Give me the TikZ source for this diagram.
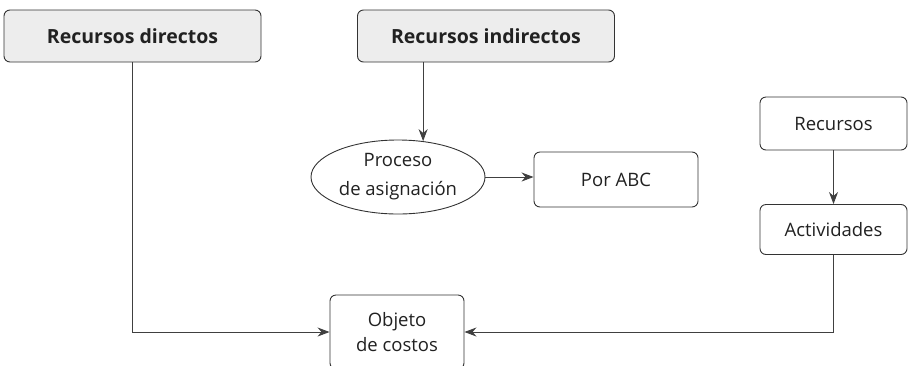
\documentclass[tikz,border=0pt]{standalone}
\usepackage{fontspec}
\setmainfont{Open Sans}
\usepackage{tikz}
\usetikzlibrary{arrows,arrows.meta,shapes,positioning}

\begin{document}
\begin{tikzpicture}[x=1pt,y=-1pt,
    every node/.style={font=\fontsize{18.5}{25}\selectfont, text=black!87},
    box/.style={draw=black!80, line width=0.9pt, rounded corners=6pt, align=center},
    topbox/.style={box, fill=black!7, minimum width=257pt, minimum height=52pt, font=\fontsize{19.5}{25}\selectfont\bfseries},
    conn/.style={draw=black!75, line width=0.9pt, -{Stealth[length=12pt,width=9pt]}}]
    \useasboundingbox (0,0) rectangle (912,365);

    \node[topbox] (rd) at (132.5,36) {Recursos directos};
    \node[topbox] (ri) at (486,36) {Recursos indirectos};
    \node[draw=black!80, line width=0.9pt, ellipse, inner sep=0pt, minimum width=174pt, minimum height=74pt, align=center] (pa) at (398,177) {Proceso\\[4pt]de asignación};
    \node[box, minimum width=164pt, minimum height=55pt] (abc) at (616,179.5) {Por ABC};
    \node[box, minimum width=147pt, minimum height=53pt] (rec) at (833.5,123.5) {Recursos};
    \node[box, minimum width=147pt, minimum height=50pt, node distance=106pt, below of=rec] (act) {Actividades};
    \node[box, minimum width=134pt, minimum height=74pt] (obj) at (397,332) {Objeto\\de costos};

    \draw[conn] (pa.55 |- ri.south) -- (pa.55);
    \draw[conn] (pa.east) -- (pa.east -| abc.west);
    \draw[conn] (rec) -- (act);
    \draw[conn] (rd.south) |- (obj.west);
    \draw[conn] (act.south) |- (obj.east);
  \end{tikzpicture}
\end{document}
